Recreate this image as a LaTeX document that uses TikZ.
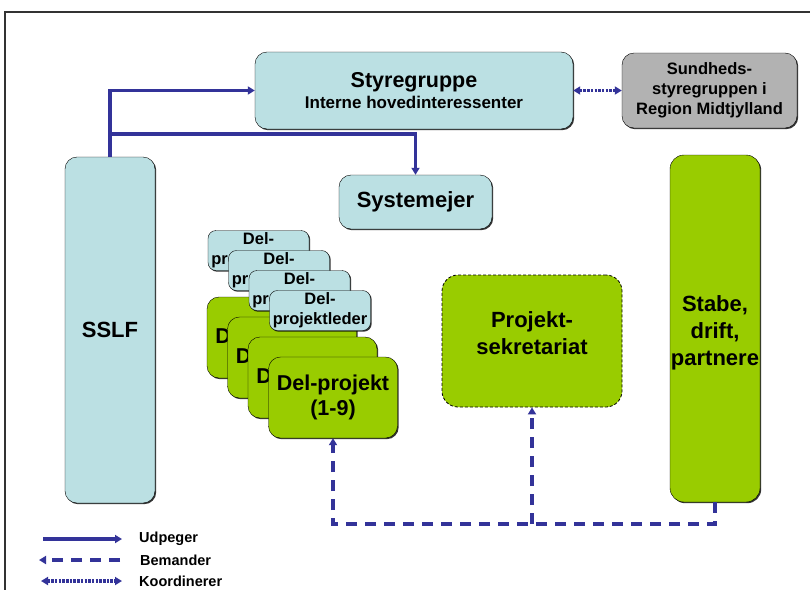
\documentclass[tikz,border=0pt]{standalone}
\usepackage{fontspec}
\setmainfont{Liberation Sans}
\usetikzlibrary{arrows.meta,shadows}

\definecolor{lysblaa}{HTML}{BBE0E3}
\definecolor{groen}{HTML}{99CC00}
\definecolor{graa}{HTML}{B2B2B2}
\definecolor{pilblaa}{HTML}{333399}

\newcommand{\storskrift}{\bfseries\fontsize{22}{27}\selectfont}
\newcommand{\dpskrift}{\bfseries\fontsize{21.5}{25}\selectfont}
\newcommand{\mellemskrift}{\bfseries\fontsize{16.5}{20}\selectfont}
\newcommand{\legendskrift}{\bfseries\fontsize{14.5}{16}\selectfont}

\begin{document}
\begin{tikzpicture}[x=1pt,y=-1pt]
\tikzset{boks/.style = {draw, rounded corners=12pt, align=center, inner sep=0pt,
    drop shadow={shadow xshift=1.2pt,shadow yshift=-1.2pt,opacity=.8,fill=black}},
  blaaboks/.style = {boks, fill=lysblaa},
  groenboks/.style = {boks, fill=groen},
  dpboks/.style = {groenboks, minimum width=129pt, minimum height=81pt, font=\dpskrift},
  dplboks/.style = {blaaboks, rounded corners=8pt, minimum width=101pt, minimum height=40pt, font=\mellemskrift},
  udpeger/.style = {draw=pilblaa, line width=3.3pt, -{Triangle[length=7pt,width=8pt]}},
  bemander/.style = {draw=pilblaa, line width=3.5pt, dash pattern=on 11pt off 8pt, -{Triangle[length=7pt,width=8pt]}},
  koord/.style = {draw=pilblaa, line width=3.2pt, dash pattern=on 2.5pt off 1.2pt,
    {Triangle[length=7pt,width=8pt]}-{Triangle[length=7pt,width=8pt]}}}
\def\dx{20.5}
\def\dy{20}

\useasboundingbox (0,0) rectangle (810,589);
\draw[black!80, line width=1.2pt] (5,600) -- (5,12) -- (820,12);

% hovedbokse
\node[blaaboks, minimum width=90pt, minimum height=346pt, font=\storskrift] (sslf) at (110,330) {SSLF};
\node[blaaboks, minimum width=318pt, minimum height=77pt, text depth=0pt] (styre) at (414,90.5)
  {{\bfseries\fontsize{21.5}{25}\selectfont Styregruppe}\\[3pt]{\bfseries\fontsize{17}{18}\selectfont Interne hovedinteressenter}};
\node[boks, fill=graa, minimum width=175pt, minimum height=75pt, font=\mellemskrift] (sundhed) at (709.5,90.5)
  {Sundheds-\\styregruppen i\\Region Midtjylland};
\node[blaaboks, minimum width=153pt, minimum height=54pt, font=\storskrift] (system) at (415.5,202) {Systemejer};
\node[groenboks, rounded corners=14pt, minimum width=90pt, minimum height=347pt, font=\storskrift,
  text height=78pt] (stabe) at (715,328.5) {Stabe,\\drift,\\partnere};
\node[draw, fill=groen, line width=0.8pt, dash pattern=on 3pt off 2pt, rounded corners=16pt, align=center,
  minimum width=180pt, minimum height=132pt, font=\storskrift, text depth=15pt] (sekr) at (532,341) {Projekt-\\sekretariat};

% del-projekter
\node[dpboks] (dp1) at (271.5,337.5) {Del-projekt};
\node[dpboks] (dp2) at (271.5+\dx,337.5+\dy) {Del-projekt};
\node[dpboks] (dp3) at (271.5+2*\dx,337.5+2*\dy) {Del-projekt};
\node[dpboks] (dp4) at (271.5+3*\dx,337.5+3*\dy) {Del-projekt\\(1-9)};

\node[dplboks] (dpl1) at (258.5,250.5) {Del-\\projektleder};
\node[dplboks] (dpl2) at (258.5+\dx,250.5+\dy) {Del-\\projektleder};
\node[dplboks] (dpl3) at (258.5+2*\dx,250.5+2*\dy) {Del-\\projektleder};
\node[dplboks] (dpl4) at (258.5+3*\dx,250.5+3*\dy) {Del-\\projektleder};

% forbindelser
\coordinate (gren) at (110,134);
\draw[udpeger] (sslf.north) |- (styre.west);
\draw[udpeger] (gren) -| (system.north);
\draw[koord] (styre.east) -- (sundhed.west);
\draw[bemander] (stabe.south) -- ++(0,22) coordinate (bund) -| (dp4.south);
\draw[bemander] (sekr.south |- bund) -- (sekr.south);

% signaturforklaring
\coordinate (u1) at (43,539);  \coordinate (u2) at (122,539);
\coordinate (b1) at (120,560); \coordinate (b2) at (39,560);
\coordinate (k1) at (41,581);  \coordinate (k2) at (122,581);
\draw[udpeger] (u1) -- (u2);
\draw[bemander] (b1) -- (b2);
\draw[koord] (k1) -- (k2);
\node[anchor=west, inner sep=0pt, font=\legendskrift] (udp) at (139,539) {Udpeger};
\node[anchor=west, inner sep=0pt, font=\legendskrift] (bem) at (140,560) {Bemander};
\node[anchor=west, inner sep=0pt, font=\legendskrift] (koo) at (139,581) {Koordinerer};
\end{tikzpicture}
\end{document}
